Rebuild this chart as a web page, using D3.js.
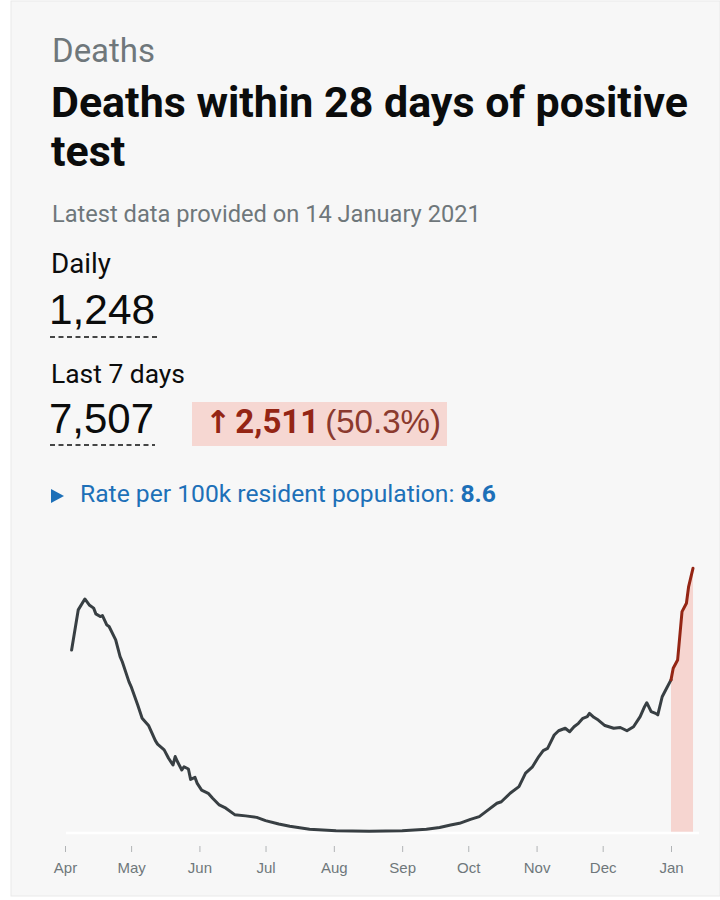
<!DOCTYPE html>
<html>
<head>
<meta charset="utf-8">
<script src="https://cdn.jsdelivr.net/npm/d3@7"></script>
<style>
  html, body { margin: 0; padding: 0; background: #ffffff; }
  svg { display: block; }
</style>
</head>
<body>
<svg id="chart" width="720" height="900"></svg>
<script>
// ---------- DATA ----------
const dates = [
  "2020-04-04","2020-04-07","2020-04-10","2020-04-12","2020-04-14","2020-04-15","2020-04-17","2020-04-18",
  "2020-04-20","2020-04-21","2020-04-24","2020-04-26","2020-04-27","2020-04-30","2020-05-01","2020-05-04",
  "2020-05-06","2020-05-09","2020-05-12","2020-05-13","2020-05-16","2020-05-18","2020-05-20","2020-05-21",
  "2020-05-22","2020-05-24","2020-05-25","2020-05-27","2020-05-28","2020-05-30","2020-05-31","2020-06-02",
  "2020-06-05","2020-06-07","2020-06-10","2020-06-13","2020-06-17","2020-06-22","2020-06-27","2020-07-01",
  "2020-07-07","2020-07-12","2020-07-21","2020-08-02","2020-08-17","2020-09-01","2020-09-12","2020-09-18",
  "2020-09-23","2020-09-27","2020-10-02","2020-10-06","2020-10-09","2020-10-14","2020-10-16","2020-10-20",
  "2020-10-24","2020-10-27","2020-10-30","2020-11-02","2020-11-04","2020-11-06","2020-11-09","2020-11-11",
  "2020-11-14","2020-11-16","2020-11-18","2020-11-20","2020-11-22","2020-11-24","2020-11-25","2020-11-27",
  "2020-11-29","2020-12-02","2020-12-06","2020-12-09","2020-12-12","2020-12-15","2020-12-18","2020-12-20",
  "2020-12-21","2020-12-23","2020-12-25","2020-12-26","2020-12-28","2020-12-30","2021-01-01","2021-01-02",
  "2021-01-04","2021-01-06","2021-01-08","2021-01-09","2021-01-11"
];
const deaths = [
  737, 899, 943, 919, 906, 883, 872, 876,
  838, 832, 778, 711, 690, 610, 590, 516,
  462, 432, 372, 358, 335, 301, 274, 308,
  288, 254, 267, 258, 216, 224, 200, 173,
  160, 140, 113, 100, 74, 69, 63, 50,
  36, 27, 15, 9, 7, 9, 15, 22,
  32, 39, 55, 66, 86, 120, 126, 160,
  187, 241, 265, 308, 332, 341, 395, 412,
  422, 408, 428, 442, 462, 469, 482, 466,
  455, 433, 422, 425, 412, 428, 469, 509,
  525, 489, 482, 476, 549, 583, 617, 664,
  697, 892, 926, 993, 1067
];
const highlightStart = "2021-01-01";
const axisStart = "2020-04-01";
const axisEnd = "2021-01-01";
const monthLabels = ["Apr","May","Jun","Jul","Aug","Sep","Oct","Nov","Dec","Jan"];

const headerLabel = "Deaths";
const titleLine1 = "Deaths within 28 days of positive";
const titleLine2 = "test";
const updatedText = "Latest data provided on 14 January 2021";
const dailyLabel = "Daily";
const dailyValue = 1248;
const weekLabel = "Last 7 days";
const weekValue = 7507;
const changeValue = 2511;
const changePct = 50.3;
const rateText = "Rate per 100k resident population: ";
const rateValue = 8.6;

// ---------- SETUP ----------
const svg = d3.select("#chart");
const parse = d3.timeParse("%Y-%m-%d");
const fmt = d3.format(",");
const TXT = "Roboto, 'Noto Sans', sans-serif";
const NUM = "'Liberation Sans', Arial, sans-serif";

svg.append("rect").attr("x", 11).attr("y", 1).attr("width", 709).attr("height", 895)
  .attr("fill", "#f7f7f7").attr("stroke", "#e9e9e9").attr("stroke-width", 1);

function fitWidth(sel, target) {
  const w = sel.node().getComputedTextLength();
  const fs = parseFloat(sel.attr("font-size"));
  sel.attr("font-size", (fs * target / w).toFixed(2));
}

// ---------- HEADER TEXT ----------
const t0 = svg.append("text").attr("x", 52).attr("y", 62).attr("font-family", TXT)
  .attr("font-size", 28).attr("fill", "#6f777b").text(headerLabel);
fitWidth(t0, 103);

const t1 = svg.append("text").attr("x", 51).attr("y", 117).attr("font-family", TXT)
  .attr("font-weight", 700).attr("font-size", 38).attr("fill", "#0b0c0c").text(titleLine1);
fitWidth(t1, 637);
const t2 = svg.append("text").attr("x", 51).attr("y", 166).attr("font-family", TXT)
  .attr("font-weight", 700).attr("font-size", t1.attr("font-size")).attr("fill", "#0b0c0c").text(titleLine2);

const t3 = svg.append("text").attr("x", 52).attr("y", 222).attr("font-family", TXT)
  .attr("font-size", 20).attr("fill", "#6f777b").text(updatedText);
fitWidth(t3, 429);

// ---------- HEADLINE NUMBERS ----------
const t4 = svg.append("text").attr("x", 51).attr("y", 273).attr("font-family", TXT)
  .attr("font-size", 24).attr("fill", "#0b0c0c").text(dailyLabel);
fitWidth(t4, 60);

const n1 = svg.append("text").attr("x", 49).attr("y", 324).attr("font-family", NUM)
  .attr("font-size", 42).attr("fill", "#0b0c0c").text(fmt(dailyValue));
fitWidth(n1, 106);
svg.append("line").attr("x1", 50).attr("x2", 157).attr("y1", 337).attr("y2", 337)
  .attr("stroke", "#0b0c0c").attr("stroke-width", 1.5).attr("stroke-dasharray", "5,3.5");

const t5 = svg.append("text").attr("x", 51).attr("y", 383).attr("font-family", TXT)
  .attr("font-size", 24).attr("fill", "#0b0c0c").text(weekLabel);
fitWidth(t5, 134);

const n2 = svg.append("text").attr("x", 49).attr("y", 433).attr("font-family", NUM)
  .attr("font-size", 42).attr("fill", "#0b0c0c").text(fmt(weekValue));
fitWidth(n2, 105);
svg.append("line").attr("x1", 50).attr("x2", 155).attr("y1", 445).attr("y2", 445)
  .attr("stroke", "#0b0c0c").attr("stroke-width", 1.5).attr("stroke-dasharray", "5,3.5");

svg.append("rect").attr("x", 192).attr("y", 402).attr("width", 255).attr("height", 44)
  .attr("fill", "#f6d7d2");
const ch = svg.append("text").attr("x", 205).attr("y", 433).attr("font-family", TXT)
  .attr("font-size", 23);
ch.append("tspan").attr("fill", "#942514").attr("font-weight", 700)
  .attr("font-family", "'DejaVu Sans', sans-serif").attr("font-size", "0.95em").text("\u2191");
ch.append("tspan").attr("fill", "#942514").attr("font-weight", 700).attr("dx", 4).text(fmt(changeValue));
ch.append("tspan").attr("fill", "#8b3a2e").attr("dx", 6).attr("font-family", NUM).text("(" + changePct + "%)");
fitWidth(ch, 226);

// rate line
svg.append("path").attr("d", "M51,489 L64,496 L51,503 Z").attr("fill", "#1d70b8");
const rt = svg.append("text").attr("x", 80).attr("y", 502).attr("font-family", TXT)
  .attr("font-size", 20).attr("fill", "#1d70b8");
rt.append("tspan").text(rateText);
rt.append("tspan").attr("font-weight", 700).text(rateValue);
fitWidth(rt, 416);

// ---------- CHART ----------
const data = dates.map((d, i) => ({ date: parse(d), value: deaths[i] }));
const hl = parse(highlightStart);
const darkData = data.filter(d => d.date <= hl);
const redData = data.filter(d => d.date >= hl);

const x = d3.scaleTime().domain([parse(axisStart), parse(axisEnd)]).range([65, 671]);
const y = d3.scaleLinear().domain([0, 1100]).range([833, 560]);

const area = d3.area().x(d => x(d.date)).y0(y(0)).y1(d => y(d.value));
const line = d3.line().x(d => x(d.date)).y(d => y(d.value));

svg.append("path").datum(redData).attr("d", area).attr("fill", "#f6d5d0");

svg.append("line").attr("x1", 66).attr("x2", 699).attr("y1", y(0)).attr("y2", y(0))
  .attr("stroke", "#ffffff").attr("stroke-width", 2.5);

svg.append("path").datum(darkData).attr("d", line).attr("fill", "none")
  .attr("stroke", "#383f43").attr("stroke-width", 3).attr("stroke-linejoin", "round").attr("stroke-linecap", "round");
svg.append("path").datum(redData).attr("d", line).attr("fill", "none")
  .attr("stroke", "#942514").attr("stroke-width", 3).attr("stroke-linejoin", "round").attr("stroke-linecap", "round");

const axis = d3.axisBottom(x)
  .ticks(d3.timeMonth.every(1))
  .tickFormat((d, i) => monthLabels[i])
  .tickSize(6).tickPadding(10);
const gx = svg.append("g").attr("transform", "translate(0,846)").call(axis);
gx.select(".domain").remove();
gx.selectAll(".tick line").attr("stroke", "#b1b4b6").attr("stroke-width", 1);
gx.selectAll(".tick text").attr("fill", "#6f777b").attr("font-family", NUM).attr("font-size", 15);
</script>
</body>
</html>
